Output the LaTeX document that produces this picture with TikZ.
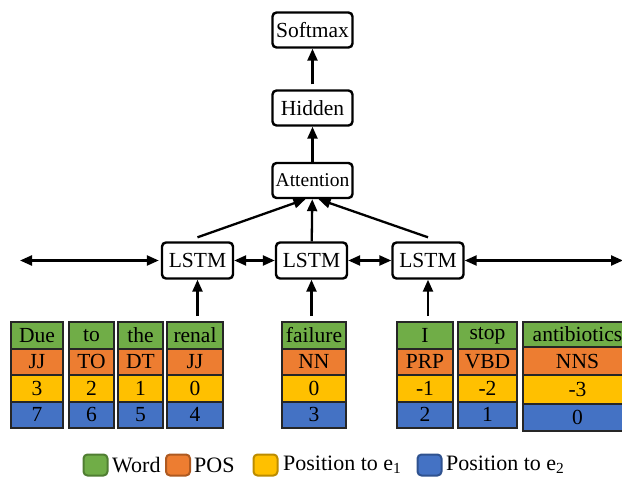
\documentclass[tikz,border=0pt]{standalone}
\usepackage{fontspec}
\setmainfont{Liberation Serif}
\newfontfamily\tnr{Liberation Serif}
\usetikzlibrary{arrows.meta,calc}
\definecolor{wgreen}{HTML}{70AD47}
\definecolor{porange}{HTML}{ED7D31}
\definecolor{ayellow}{HTML}{FFC000}
\definecolor{bblue}{HTML}{4472C4}
\definecolor{wgreenD}{HTML}{507E32}
\definecolor{porangeD}{HTML}{AE5A21}
\definecolor{ayellowD}{HTML}{BC8C00}
\definecolor{bblueD}{HTML}{2F528F}

% one token column: name, left x, width, word, POS tag, position to e1, position to e2
\newcommand\tokcol[7]{%
  \node[cell, fill=wgreen,  minimum width=#3pt, minimum height=26.5pt] (#1-w) at (#2,322)   {#4};
  \node[cell, fill=porange, minimum width=#3pt, minimum height=26.5pt] (#1-p) at (#2,348.5) {#5};
  \node[cell, fill=ayellow, minimum width=#3pt, minimum height=26.5pt] (#1-a) at (#2,375)   {#6};
  \node[cell, fill=bblue,   minimum width=#3pt, minimum height=26.5pt] (#1-b) at (#2,401.5) {#7};
}

\begin{document}
\begin{tikzpicture}[x=1pt,y=-1pt,
  box/.style={draw, line width=2.4pt, rounded corners=4pt, minimum width=80pt,
    minimum height=35pt, inner sep=0pt, font=\tnr\fontsize{21.5}{24}\selectfont},
  lstm/.style={box, minimum width=71pt, minimum height=36pt},
  tip/.tip={Triangle[length=12pt,width=10pt]},
  arr/.style={line width=2.3pt, -tip},
  biarr/.style={line width=2.3pt, tip-tip},
  cell/.style={draw=black!85, line width=2pt, inner sep=0pt, outer sep=0pt,
    anchor=north west, font=\tnr\fontsize{21.5}{24}\selectfont},
  key/.style={line width=2pt, rounded corners=4pt, minimum width=24pt,
    minimum height=21pt, inner sep=0pt},
  lbl/.style={anchor=west, inner sep=0pt, font=\tnr\fontsize{22}{24}\selectfont}]
\clip (0,0) rectangle (622,479);

% upper layers
\node[box] (soft) at (312.5,30) {Softmax};
\node[box] (hid) at (312.5,108) {Hidden};
\node[box, font=\tnr\fontsize{19.5}{22}\selectfont] (att) at (312.5,180.5) {Attention};

% recurrent layer
\node[lstm] (l1) at (197.5,260.5) {LSTM};
\node[lstm] (l2) at (311.5,260.5) {LSTM};
\node[lstm] (l3) at (428,260.5) {LSTM};
\coordinate (lend) at (20,260.5);
\coordinate (rend) at (623,260.5);

% input token features
\tokcol{due}{11}{52}{Due}{JJ}{3}{7}
\tokcol{to}{69}{45}{to}{TO}{2}{6}
\tokcol{the}{118}{45}{the}{DT}{1}{5}
\tokcol{renal}{167}{56}{renal}{JJ}{0}{4}
\tokcol{fail}{282}{64}{failure}{NN}{0}{3}
\tokcol{i}{397}{56}{I}{PRP}{-1}{2}
\tokcol{stop}{458}{59}{stop}{VBD}{-2}{1}
\node[cell, fill=wgreen,  minimum width=109pt, minimum height=25pt] (anti-w) at (523,322) {antibiotics};
\node[cell, fill=porange, minimum width=109pt, minimum height=28pt] (anti-p) at (523,347) {NNS};
\node[cell, fill=ayellow, minimum width=109pt, minimum height=29pt] (anti-a) at (523,375) {-3};
\node[cell, fill=bblue,   minimum width=109pt, minimum height=27pt] (anti-b) at (523,404) {0};

% connectors
\draw[biarr, shorten >=2pt] (lend) -- (l1);
\draw[biarr] (l1) -- (l2);
\draw[biarr] (l2) -- (l3);
\draw[biarr] (l3) -- (rend);
\draw[arr] ($(l1 |- renal-w.north)+(0,-6)$) -- (l1);
\draw[arr] ($(l2 |- fail-w.north)+(0,-6)$) -- (l2);
\draw[arr] ($(l3 |- i-w.north)+(0,-6)$) -- (l3);
\draw[arr] ([yshift=4pt]l1.north) -- ([xshift=-7pt]att.south);
\draw[arr] (l2) -- (att);
\draw[arr] ([yshift=4pt]l3.north) -- ([xshift=6pt]att.south);
\draw[arr] (att) -- (hid);
\draw[arr] ([yshift=5pt]hid.north) -- (soft);

% legend
\node[key, fill=wgreen, draw=wgreenD] (kw) at (95.5,465) {};
\node[lbl] (tw) at (112,465) {Word};
\node[key, fill=porange, draw=porangeD] (kp) at (178,465) {};
\node[lbl] (tp) at (194,465) {POS};
\node[key, fill=ayellow, draw=ayellowD] (ka) at (265.5,465) {};
\node[lbl] (ta) at (283,465) {Position to e\textsubscript{1}};
\node[key, fill=bblue, draw=bblueD] (kb) at (429.5,465) {};
\node[lbl] (tb) at (446,465) {Position to e\textsubscript{2}};
\end{tikzpicture}
\end{document}
